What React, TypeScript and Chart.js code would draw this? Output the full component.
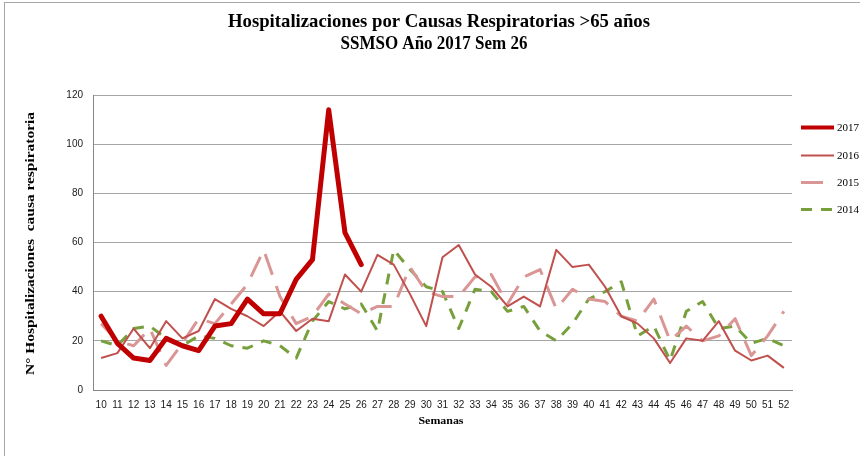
import React, { useEffect, useRef } from "react";
import { Chart, registerables } from "chart.js";

Chart.register(...registerables);

const TITLE_LINES = ["Hospitalizaciones por Causas Respiratorias >65 años", "SSMSO Año 2017 Sem 26"];
const Y_TITLE = "N° Hospitalizaciones  causa respiratoria";
const X_TITLE = "Semanas";

const weeks = [
  "10", "11", "12", "13", "14", "15", "16", "17", "18", "19", "20", "21", "22", "23", "24", "25",
  "26", "27", "28", "29", "30", "31", "32", "33", "34", "35", "36", "37", "38", "39", "40", "41",
  "42", "43", "44", "45", "46", "47", "48", "49", "50", "51", "52",
];

const seriesLabels = ["2017", "2016", "2015", "2014"];

const s2017 = [30, 19, 13, 12, 21, 18, 16, 26, 27, 37, 31, 31, 45, 53, 114, 64, 51];

const s2016 = [
  13, 15, 25, 17, 28, 21, 24, 37, 33, 30, 26, 32, 24, 29, 28, 47, 40, 55, 51, 39, 26, 54, 59, 47,
  42, 34, 38, 34, 57, 50, 51, 42, 30, 27, 21, 11, 21, 20, 28, 16, 12, 14, 9,
];

const s2015 = [
  27, 20, 18, 25, 10, 19, 29, 27, 35, 43, 57, 38, 27, 30, 39, 35, 31, 34, 34, 50, 40, 38, 38, 46,
  47, 35, 46, 49, 33, 41, 37, 36, 30, 28, 37, 20, 26, 20, 22, 29, 14, 22, 32,
];

const s2014 = [
  20, 18, 25, 26, 21, 18, 22, 21, 18, 17, 20, 18, 13, 28, 36, 33, 35, 24, 57, 49, 42, 40, 25, 41,
  40, 32, 34, 24, 20, 27, 37, 40, 44, 22, 26, 12, 32, 36, 25, 26, 19, 21, 18,
];

const yTicksMax = 120;
const yTicksStep = 20;

const COLORS = ["#C00000", "#C0504D", "#D99694", "#77A03C"];
const WIDTHS = [5, 2, 3, 3];
const DASHES: number[][] = [[], [], [22, 12], [11, 9]];

function drawFitted(ctx: CanvasRenderingContext2D, text: string, cx: number, cy: number, font: string, targetW: number) {
  ctx.save();
  ctx.font = font;
  const w = ctx.measureText(text).width;
  const sx = targetW / w;
  ctx.translate(cx, cy);
  ctx.scale(sx, 1);
  ctx.textAlign = "center";
  ctx.textBaseline = "middle";
  ctx.fillText(text, 0, 0);
  ctx.restore();
}

const decorPlugin = {
  id: "decor",
  beforeDraw(chart: any) {
    const ctx = chart.ctx as CanvasRenderingContext2D;
    ctx.save();
    ctx.fillStyle = "#ffffff";
    ctx.fillRect(0, 0, chart.width, chart.height);
    ctx.strokeStyle = "#a6a6a6";
    ctx.lineWidth = 1;
    ctx.strokeRect(4.5, 2.5, 1000, 1000);
    ctx.restore();
  },
  afterDraw(chart: any) {
    const ctx = chart.ctx as CanvasRenderingContext2D;
    ctx.save();
    ctx.fillStyle = "#000000";
    drawFitted(ctx, TITLE_LINES[0], 439, 22, 'bold 19px "Liberation Serif"', 422);
    drawFitted(ctx, TITLE_LINES[1], 434, 44, 'bold 19px "Liberation Serif"', 187);
    // y title
    ctx.save();
    ctx.translate(31, 243.5);
    ctx.rotate(-Math.PI / 2);
    drawFitted(ctx, Y_TITLE, 0, 0, 'bold 12px "Liberation Serif"', 263);
    ctx.restore();
    // x title
    drawFitted(ctx, X_TITLE, 441, 421, 'bold 11px "Liberation Serif"', 45);

    // legend
    const ys = [127.5, 155.5, 182.5, 209.5];
    chart.data.datasets.forEach((ds: any, i: number) => {
      const y = ys[i];
      ctx.save();
      ctx.strokeStyle = ds.borderColor;
      ctx.lineWidth = i === 0 ? 4 : ds.borderWidth;
      ctx.setLineDash(ds.borderDash || []);
      ctx.lineCap = "butt";
      ctx.beginPath();
      ctx.moveTo(801, y);
      ctx.lineTo(834, y);
      ctx.stroke();
      ctx.restore();
      ctx.fillStyle = "#000000";
      ctx.font = '11px "Liberation Serif"';
      ctx.textAlign = "left";
      ctx.textBaseline = "middle";
      ctx.fillText(ds.label, 837, y + 0.5);
    });
    ctx.restore();
  },
};

export default function App() {
  const ref = useRef<HTMLCanvasElement>(null);
  useEffect(() => {
    document.body.style.margin = "0";
    const data = [s2017, s2016, s2015, s2014];
    const chart = new Chart(ref.current as HTMLCanvasElement, {
      type: "line",
      data: {
        labels: weeks,
        datasets: seriesLabels.map((label, i) => ({
          label,
          data: data[i],
          borderColor: COLORS[i],
          backgroundColor: COLORS[i],
          borderWidth: WIDTHS[i],
          borderDash: DASHES[i],
          borderJoinStyle: "round" as const,
          borderCapStyle: i === 0 ? ("round" as const) : ("butt" as const),
          pointRadius: 0,
          pointHoverRadius: 0,
          tension: 0,
          fill: false,
        })),
      },
      options: {
        responsive: false,
        devicePixelRatio: 1,
        animation: false,
        events: [],
        layout: { padding: { left: 0, right: 68, top: 95, bottom: 0 } },
        plugins: {
          legend: { display: false },
          title: { display: false },
          tooltip: { enabled: false },
        },
        scales: {
          x: {
            type: "category",
            offset: true,
            grid: { display: false, drawTicks: false },
            border: { display: true, color: "#868686", width: 1 },
            ticks: {
              autoSkip: false,
              maxRotation: 0,
              minRotation: 0,
              padding: 9,
              color: "#1a1a1a",
              font: { family: '"Liberation Sans"', size: 10 },
            },
            afterFit: (s: any) => {
              s.height = 66;
            },
          },
          y: {
            min: 0,
            max: yTicksMax,
            ticks: {
              stepSize: yTicksStep,
              padding: 10,
              color: "#1a1a1a",
              font: { family: '"Liberation Sans"', size: 10 },
            },
            grid: { color: "#a6a6a6", drawTicks: false, lineWidth: 1 },
            border: { display: true, color: "#868686", width: 1 },
            afterFit: (s: any) => {
              s.width = 93;
            },
          },
        },
      },
      plugins: [decorPlugin],
    });
    return () => chart.destroy();
  }, []);
  return (
    <div style={{ width: 860, height: 456 }}>
      <canvas ref={ref} width={860} height={456} style={{ display: "block" }} />
    </div>
  );
}
